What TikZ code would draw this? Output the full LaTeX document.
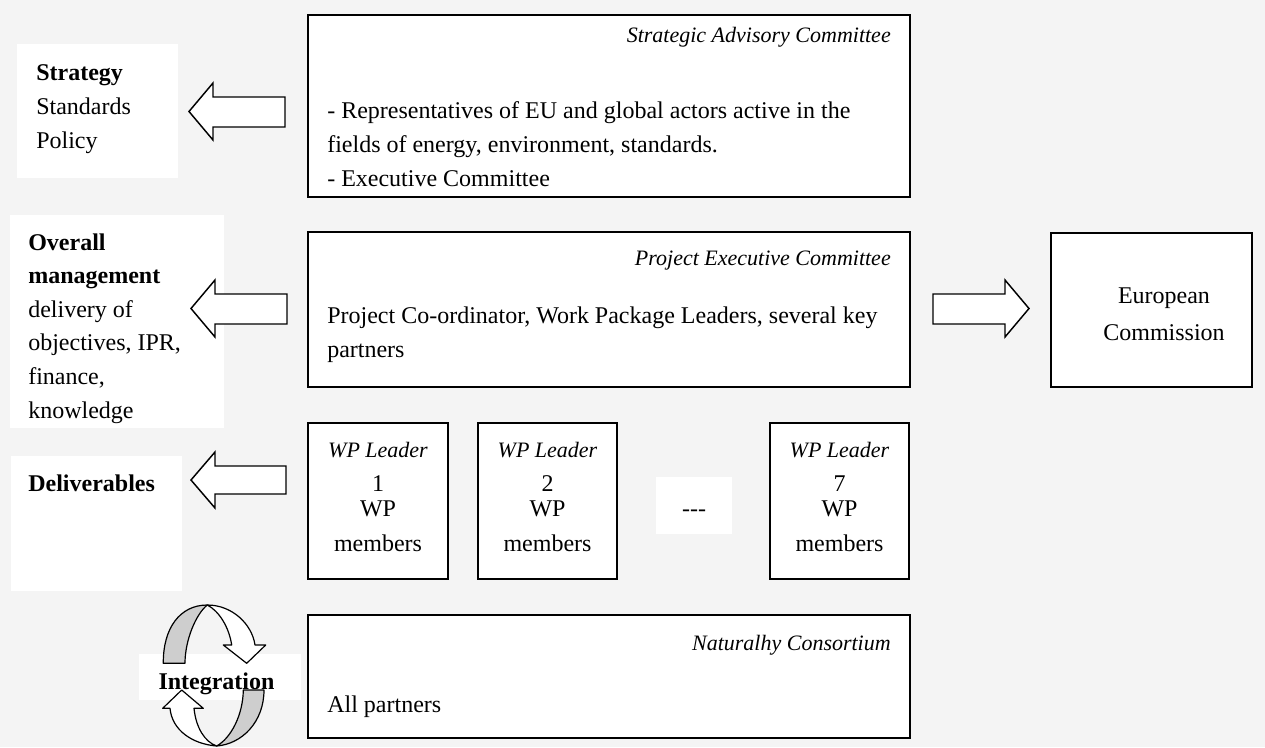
\documentclass[tikz,border=0pt]{standalone}
\usepackage{fontspec}
\setmainfont{Liberation Serif}
\usetikzlibrary{fit}
\definecolor{bggray}{RGB}{244,244,244}
\definecolor{ribbongray}{RGB}{206,206,206}
\begin{document}
\begin{tikzpicture}[x=0.75pt,y=-0.75pt,
  box/.style={draw=black,line width=1.1pt,fill=white,inner sep=0pt},
  wbox/.style={fill=white,inner sep=0pt},
  barrow/.style={draw=black,line width=1.1pt,fill=white,line join=miter},
  ribbon/.style={draw=black,line width=0.9pt,line join=round},
  body/.style={font=\fontsize{18}{25}\selectfont,inner sep=0pt},
  bodyb/.style={font=\fontsize{18}{25}\selectfont\bfseries,inner sep=0pt},
  head/.style={font=\fontsize{16.5}{20}\selectfont\itshape,inner sep=0pt}]
\fill[bggray] (0,0) rectangle (1265,747);
\useasboundingbox (0,0) rectangle (1265,747);

% left white text boxes
\node[wbox,fit={(17,44) (178,178)}] (strat) {};
\node[wbox,fit={(10,215) (224,428)}] (overall) {};
\node[wbox,fit={(11,456) (182,591)}] (deliv) {};
\node[wbox,fit={(139,654) (301,700)}] (integ) {};
\node[wbox,fit={(656,477) (732,534)}] (dots) {};

% main boxes
\node[box,fit={(308,15) (910,197)}] (sac) {};
\node[box,fit={(308,232) (910,387)}] (pec) {};
\node[box,fit={(1051,233) (1252,387)}] (ec) {};
\node[box,fit={(308,423) (448,579)}] (wp1) {};
\node[box,fit={(478,423) (617,579)}] (wp2) {};
\node[box,fit={(770,423) (909,579)}] (wp7) {};
\node[box,fit={(308,615) (910,738)}] (nat) {};

% texts left
\node[bodyb,anchor=base west] (t1) at (36,80) {Strategy};
\node[body,anchor=base west] (t2) at (36,114) {Standards};
\node[body,anchor=base west] (t3) at (36,148) {Policy};

\begin{scope}
\clip (10,215) rectangle (224,423);
\node[bodyb,anchor=base west] (o1) at (28,250) {Overall};
\node[bodyb,anchor=base west] (o2) at (28,283.6) {management};
\node[body,anchor=base west] (o3) at (28,317.2) {delivery of};
\node[body,anchor=base west] (o4) at (28,350.8) {objectives, IPR,};
\node[body,anchor=base west] (o5) at (28,384.4) {finance,};
\node[body,anchor=base west] (o6) at (28,418) {knowledge};
\end{scope}

\node[bodyb,anchor=base west] (d1) at (28,491) {Deliverables};

% Strategic Advisory Committee
\node[head,anchor=base east] (sach) at (891,42) {Strategic Advisory Committee};
\node[body,anchor=base west] (s1) at (327,118) {- Representatives of EU and global actors active in the};
\node[body,anchor=base west] (s2) at (327,152) {fields of energy, environment, standards.};
\node[body,anchor=base west] (s3) at (327,186) {- Executive Committee};

% Project Executive Committee
\node[head,anchor=base east] (pech) at (891,265) {Project Executive Committee};
\node[body,anchor=base west] (p1) at (327,323) {Project Co-ordinator, Work Package Leaders, several key};
\node[body,anchor=base west] (p2) at (327,357) {partners};

% European Commission
\node[body,anchor=base] (e1) at (1164,303) {European};
\node[body,anchor=base] (e2) at (1164,340) {Commission};

% WP boxes
\foreach \n/\cx/\num in {wp1/378/1, wp2/547.5/2, wp7/839.5/7}{
  \node[head,anchor=base] (\n-a) at (\cx,457) {WP Leader};
  \node[body,anchor=base] (\n-b) at (\cx,491) {\num};
  \node[body,anchor=base] (\n-c) at (\cx,516) {WP};
  \node[body,anchor=base] (\n-d) at (\cx,551) {members};
}
\node[body,anchor=base] (dt) at (dots.center |- 0,516) {-{}-{}-};

% Naturalhy Consortium
\node[head,anchor=base east] (nath) at (891,650) {Naturalhy Consortium};
\node[body,anchor=base west] (n1) at (327,712) {All partners};

% block arrows
\draw[barrow] (189,111.5) -- (213,83) -- (213,97) -- (285,97) -- (285,127) -- (213,127) -- (213,140) -- cycle;
\draw[barrow] (191,308.5) -- (215,280) -- (215,294) -- (287,294) -- (287,324) -- (215,324) -- (215,337) -- cycle;
\draw[barrow] (191,480) -- (215,452) -- (215,466) -- (286,466) -- (286,494) -- (215,494) -- (215,508) -- cycle;
\draw[barrow] (1029,308.5) -- (1005,280) -- (1005,294) -- (933,294) -- (933,324) -- (1005,324) -- (1005,337) -- cycle;

% circular ribbon arrows
% upper piece
\filldraw[ribbon,fill=ribbongray] (163.3,663.3) .. controls (163,628) and (180,605) .. (207.3,605)
  .. controls (196,614) and (185,640) .. (185,663.3) -- cycle;
\filldraw[ribbon,fill=white] (207.3,605) .. controls (232,605) and (252,624) .. (255,645)
  -- (265.7,645) -- (246.7,663.3) -- (223.3,645) -- (231.7,645)
  .. controls (229,627) and (219,611) .. (207.3,605) -- cycle;
% lower piece
\filldraw[ribbon,fill=white] (181.7,690) -- (203.3,708.3) -- (194,708.3)
  .. controls (196,728) and (205,742) .. (216.7,746)
  .. controls (192,744) and (172,730) .. (170,708.3)
  -- (162.7,708.3) -- cycle;
\filldraw[ribbon,fill=ribbongray] (216.7,746) .. controls (242,744) and (264,722) .. (264,690)
  -- (243.3,690) .. controls (243,715) and (231,738) .. (216.7,746) -- cycle;

\node[bodyb,anchor=base] (it) at (216.5,689) {Integration};
\end{tikzpicture}
\end{document}
